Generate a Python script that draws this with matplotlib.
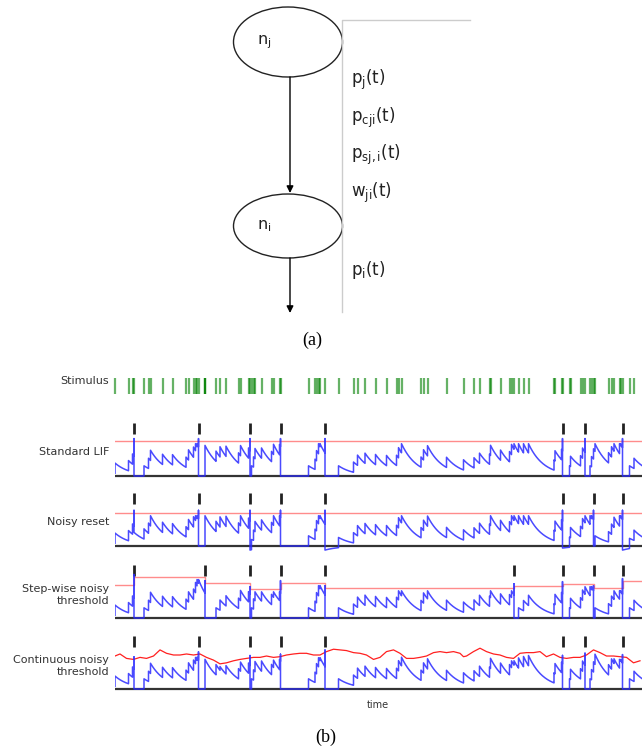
import numpy as np
import matplotlib
matplotlib.use("Agg")
import matplotlib.pyplot as plt
from collections import Counter
from matplotlib.patches import Ellipse

plt.rcParams["mathtext.fontset"] = "dejavusans"

W, H = 642, 749

# ---- data -------------------------------------------------------------
# input spike train (ms); repeated entries = overlapping ticks
stim_ms = [0, 27, 35, 38, 58, 67, 71, 95, 115, 142, 147, 157, 161, 164, 167,
           180, 180, 180, 202, 210, 222, 247, 251, 267, 270, 273, 277, 280,
           293, 313, 317, 329, 331, 387, 400, 403, 407, 410, 420, 447, 477,
           485, 500, 521, 543, 563, 567, 573, 612, 617, 625, 663, 697,
           718, 729, 749, 751, 771, 789, 793, 798, 807, 817, 827, 878, 880,
           893, 895, 909, 911, 931, 935, 940, 950, 953, 957, 960, 987, 993,
           998, 1009, 1011, 1015, 1029, 1038]

std_spikes = [38, 167, 270, 331, 420, 895, 940, 1015]
std_thr = 1.03

noisy_spikes = [38, 167, 270, 331, 420, 895, 957, 1015]
noisy_resets = [0.4, 0.0, -0.12, 0.0, -0.12, -0.06, 0.0, -0.12]
noisy_thr = 0.97

step_spikes = [38, 180, 270, 331, 420, 798, 895, 957, 1015]
step_levels = [0.97, 1.21, 1.03, 0.85, 1.03, 0.88, 0.94, 1.0, 0.88, 1.09]

cont_spikes = [38, 167, 270, 331, 420, 895, 940, 1015]
cont_thr_t = [0, 10, 23, 37, 50, 63, 77, 90, 103, 117, 130, 143, 157, 170,
              183, 197, 210, 223, 237, 250, 263, 277, 290, 303, 317, 330,
              343, 357, 370, 383, 397, 410, 423, 437, 450, 463, 477, 490,
              503, 517, 530, 543, 557, 570, 583, 597, 610, 623, 637, 650,
              663, 677, 690, 697, 703, 717, 730, 743, 757, 770, 783, 797,
              810, 823, 837, 850, 863, 877, 890, 903, 917, 930, 943, 957,
              970, 983, 997, 1010, 1023, 1037, 1050]
cont_thr_v = [0.97, 1.03, 0.90, 0.87, 0.93, 0.90, 0.97, 1.15, 1.05, 1.0,
              1.0, 1.03, 1.0, 1.03, 0.93, 0.85, 0.74, 0.77, 0.83, 0.87,
              0.90, 0.93, 0.93, 0.97, 0.93, 0.95, 1.0, 1.03, 1.05, 1.05,
              1.0, 1.0, 1.10, 1.17, 1.15, 1.13, 1.07, 1.05, 1.0, 0.87,
              0.93, 1.10, 1.15, 1.05, 0.90, 0.90, 0.93, 0.97, 1.07, 1.10,
              1.07, 1.10, 1.05, 0.95, 0.97, 1.10, 1.20, 1.10, 1.03, 1.0,
              0.93, 0.90, 1.05, 1.07, 1.07, 1.10, 0.95, 1.03, 0.93, 0.90,
              0.93, 0.93, 1.0, 1.15, 1.07, 0.97, 0.97, 0.95, 0.93, 0.77,
              0.83]

# diagram (a)
node_labels = [r"$\mathrm{n_j}$", r"$\mathrm{n_i}$"]
edge_labels = [r"$\mathrm{p_j(t)}$", r"$\mathrm{p_{cji}(t)}$",
               r"$\mathrm{p_{sj,i}(t)}$", r"$\mathrm{w_{ji}(t)}$",
               r"$\mathrm{p_i(t)}$"]

T_END = 1054
TAU = 30.0
W_SYN = 0.30


def membrane(spikes, resets, peaks, thr, v0=0.08, dt=1.0):
    """event driven LIF trace, output spikes forced at the given times;
    sub-threshold inputs are kept just under the threshold line"""
    spk = dict(zip(spikes, zip(resets, peaks)))
    ts, vs = [0.0], [v0]
    t_prev, v = 0.0, v0
    for e, n in sorted(Counter(stim_ms).items()):
        if e > t_prev:
            seg = np.arange(t_prev + dt, e, dt)
            ts.extend(seg)
            vs.extend(v * np.exp(-(seg - t_prev) / TAU))
            v = v * np.exp(-(e - t_prev) / TAU)
            ts.append(e)
            vs.append(v)
        t_prev = e
        if e in spk:
            reset, peak = spk[e]
            ts += [e, e]
            vs += [peak, reset]
            v = reset
        else:
            v = min(v + n * W_SYN, thr(e) - 0.08)
            ts.append(e)
            vs.append(v)
    seg = np.arange(t_prev + dt, T_END + dt, dt)
    ts.extend(seg)
    vs.extend(v * np.exp(-(seg - t_prev) / TAU))
    return np.array(ts), np.array(vs)


fig = plt.figure(figsize=(W / 100, H / 100), dpi=100)

# ---- (a) diagram, axes in pixel units ---------------------------------
axa = fig.add_axes([0, 1 - 330 / H, 1, 330 / H])
axa.set_xlim(0, W)
axa.set_ylim(330, 0)
axa.axis("off")
for cy, hgt, lab in [(42, 70, node_labels[0]), (226, 64, node_labels[1])]:
    axa.add_patch(Ellipse((288, cy), 109, hgt, fill=False, ec="#222222", lw=1.0))
    axa.text(257, cy, lab, fontsize=11.5, color="#222222", va="center")
axa.annotate("", xy=(290, 193), xytext=(290, 77),
             arrowprops=dict(arrowstyle="-|>", color="k", lw=1.0,
                             mutation_scale=10, shrinkA=0, shrinkB=0))
axa.annotate("", xy=(290, 313), xytext=(290, 258),
             arrowprops=dict(arrowstyle="-|>", color="k", lw=1.0,
                             mutation_scale=10, shrinkA=0, shrinkB=0))
axa.plot([342, 342, 470], [312, 20, 20], color="#cccccc", lw=1.0)
for y, lab in zip([80, 118, 155, 193, 270], edge_labels):
    axa.text(351, y, lab, fontsize=12, color="#222222", va="center")

fig.text(312 / W, 1 - 340 / H, "(a)", fontsize=13, family="Liberation Serif",
         ha="center", va="center")
fig.text(326 / W, 1 - 737 / H, "(b)", fontsize=13, family="Liberation Serif",
         ha="center", va="center")

# ---- (b) spike raster + traces -----------------------------------------
X0, X1 = 115, 642
lab_kw = dict(fontsize=8, color="#333333", ha="right", va="center",
              linespacing=1.2)

ax_s = fig.add_axes([X0 / W, 1 - 394 / H, (X1 - X0) / W, 16 / H])
ev = ax_s.eventplot(stim_ms, colors="green", alpha=0.6, linelengths=1,
                    lineoffsets=0.5, linewidths=1.6)
for c in ev:
    c.set_clip_on(False)
ax_s.set_xlim(0, T_END)
ax_s.set_ylim(0, 1)
ax_s.axis("off")
fig.text(109 / W, 1 - 381 / H, "Stimulus", **lab_kw)

UNIT = 34.0
YLO, YHI = -0.3, 1.7


def panel(base_px, label, label_y):
    ax = fig.add_axes([X0 / W, 1 - (base_px - YLO * UNIT) / H,
                       (X1 - X0) / W, (YHI - YLO) * UNIT / H])
    ax.set_xlim(0, T_END)
    ax.set_ylim(YLO, YHI)
    ax.axis("off")
    ax.axhline(0, color="#333333", lw=1.6, zorder=1)
    fig.text(109 / W, 1 - label_y / H, label, **lab_kw)
    return ax


def outspikes(ax, spikes):
    ax.eventplot(spikes, colors="#222222", linelengths=0.32,
                 lineoffsets=1.40, linewidths=2.0)


thr_kw = dict(color="#ff8c8c", lw=1.0, zorder=2)
mem_kw = dict(color="#2a2aff", lw=1.1, alpha=0.85, zorder=3)

# standard LIF
ax1 = panel(476, "Standard LIF", 452)
ax1.axhline(std_thr, **thr_kw)
t, v = membrane(std_spikes, [0.0] * len(std_spikes), [1.1] * len(std_spikes),
                lambda e: std_thr)
ax1.plot(t, v, **mem_kw)
outspikes(ax1, std_spikes)

# noisy reset
ax2 = panel(546, "Noisy reset", 522)
ax2.axhline(noisy_thr, **thr_kw)
t, v = membrane(noisy_spikes, noisy_resets, [1.05] * len(noisy_spikes),
                lambda e: noisy_thr)
ax2.plot(t, v, **mem_kw)
outspikes(ax2, noisy_spikes)

# step-wise noisy threshold
ax3 = panel(618, "Step-wise noisy\nthreshold", 595)
edges = [0] + step_spikes + [T_END]
ax3.step(edges, step_levels + [step_levels[-1]], where="post", **thr_kw)
t, v = membrane(step_spikes, [0.0] * len(step_spikes),
                [lv + 0.07 for lv in step_levels[1:]],
                lambda e: step_levels[np.searchsorted(step_spikes, e, "right")])
ax3.plot(t, v, **mem_kw)
outspikes(ax3, step_spikes)

# continuous noisy threshold
ax4 = panel(689, "Continuous noisy\nthreshold", 666)
ax4.plot(cont_thr_t, cont_thr_v, color="#ff2020", lw=0.9, zorder=2)
cpk = list(np.interp(cont_spikes, cont_thr_t, cont_thr_v) + 0.07)
t, v = membrane(cont_spikes, [0.0] * len(cont_spikes), cpk,
                lambda e: np.interp(e, cont_thr_t, cont_thr_v))
ax4.plot(t, v, **mem_kw)
outspikes(ax4, cont_spikes)

fig.text(378 / W, 1 - 705 / H, "time", fontsize=7, color="#333333",
         ha="center", va="center")

fig.savefig("out.png", dpi=100)
